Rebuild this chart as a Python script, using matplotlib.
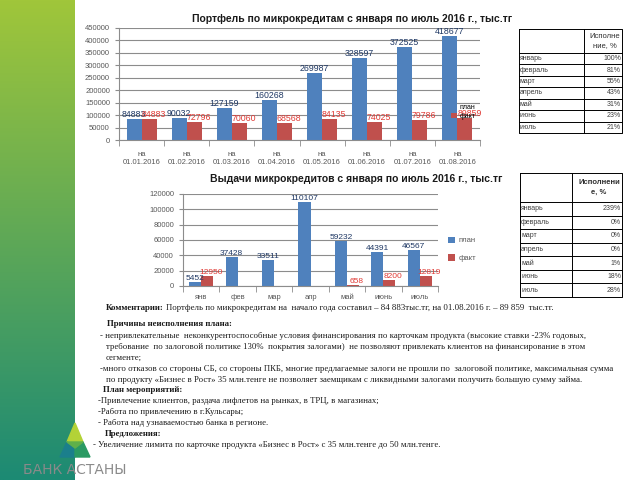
import numpy as np
import matplotlib
matplotlib.use('Agg')
import matplotlib.pyplot as plt
from matplotlib.patches import Polygon

#--data--
dates = ['01.01.2016', '01.02.2016', '01.03.2016', '01.04.2016',
         '01.05.2016', '01.06.2016', '01.07.2016', '01.08.2016']
portf_plan = [84883, 90032, 127159, 160268, 269987, 328597, 372525, 418677]
portf_fact = [84883, 72796, 70060, 68568, 84135, 74025, 79786, 89859]

months_short = ['янв', 'фев', 'мар', 'апр', 'май', 'июнь', 'июль']
issue_plan = [5452, 37428, 33511, 110107, 59232, 44391, 46567]
issue_fact = [12950, 0, 0, 0, 658, 8200, 12819]

months = ['январь', 'февраль', 'март', 'апрель', 'май', 'июнь', 'июль']
portf_pct = [100, 81, 55, 43, 31, 23, 21]
issue_pct = [239, 0, 0, 0, 1, 18, 28]

BLUE = '#4F81BD'
RED = '#C0504D'
GRID = '#8c8c8c'
TICK = '#595959'
SANS = ['Liberation Sans', 'DejaVu Sans']
SERIF = ['Liberation Serif', 'DejaVu Serif']

W, H = 640, 480
fig = plt.figure(figsize=(6.4, 4.8), dpi=100)


def px_axes(l, t, r, b):# pixel box -> figure axes
    return fig.add_axes([l / W, 1 - b / H, (r - l) / W, (b - t) / H])


# green strip on the left
strip = px_axes(0, 0, 75, 480)
top = np.array([160, 198, 58]) / 255
bot = np.array([28, 138, 116]) / 255
t = np.linspace(0, 1, 256)[:, None]
grad = (top[None, :] * (1 - t) + bot[None, :] * t)[:, None, :]
strip.imshow(grad, aspect='auto', extent=[0, 1, 1, 0])
strip.axis('off')


def bar_chart(ax, labels, plan, fact, ymax, ystep, fs):
    x = np.arange(len(labels))
    w = 0.333
    ax.bar(x - w / 2, plan, w, color=BLUE, label='план', zorder=2)
    ax.bar(x + w / 2, fact, w, color=RED, label='факт', zorder=2)
    for i in range(len(labels)):
        ax.text(x[i] - w / 2, plan[i], str(plan[i]), ha='center', va='bottom',
                fontsize=fs, color='#1F3864', family=SANS, zorder=3)
        if fact[i] > 0:
            ax.text(x[i] + w / 2 + 0.1, fact[i], str(fact[i]), ha='center',
                    va='bottom', fontsize=fs, color='#E03A35', family=SANS,
                    zorder=3)
    ax.set_xlim(-0.5, len(labels) - 0.5)
    ax.set_ylim(0, ymax)
    ax.set_yticks(np.arange(0, ymax + 1, ystep))
    ax.set_xticks(x)
    ax.set_xticklabels(labels)
    ax.set_xticks(np.arange(-0.5, len(labels), 1), minor=True)
    ax.tick_params(axis='x', which='major', length=0, pad=6)
    ax.tick_params(axis='x', which='minor', length=4, color=GRID)
    ax.tick_params(axis='y', length=3, color=GRID)
    ax.tick_params(labelsize=5.5, labelcolor=TICK)
    for lab in ax.get_xticklabels() + ax.get_yticklabels():
        lab.set_family(SANS)
    ax.yaxis.grid(True, color=GRID, lw=0.8)
    ax.set_axisbelow(True)
    for s in ['top', 'right']:
        ax.spines[s].set_visible(False)
    for s in ['left', 'bottom']:
        ax.spines[s].set_color(GRID)


# chart 1: portfolio
ax1 = px_axes(119, 28, 480, 140)
bar_chart(ax1, ['на\n' + d for d in dates], portf_plan, portf_fact,
          450000, 50000, 6.3)
ax1.tick_params(axis='x', which='major', pad=8)
ax1.legend(loc=(0.92, 0.18), frameon=False, handlelength=0.9,
           handleheight=0.9, handletextpad=0.3, labelspacing=0.2,
           borderpad=0, prop={'family': SANS, 'size': 5})

# chart 2: issuance
ax2 = px_axes(183, 194, 438, 286)
bar_chart(ax2, months_short, issue_plan, issue_fact, 120000, 20000, 6)
ax2.legend(loc=(1.04, 0.26), frameon=False, handlelength=0.9,
           handleheight=0.9, handletextpad=0.5, labelspacing=1.3,
           borderpad=0, prop={'family': SANS, 'size': 5.5},
           labelcolor=TICK)

# overlay for text, tables and logo
ov = fig.add_axes([0, 0, 1, 1])
ov.set_xlim(0, W)
ov.set_ylim(H, 0)
ov.axis('off')
ov.patch.set_alpha(0)

ov.text(352, 19, 'Портфель по микрокредитам с января по июль 2016 г., тыс.тг',
        ha='center', va='center', fontsize=7.5, fontweight='bold',
        family=SANS, color='#1a1a1a')
ov.text(356, 179, 'Выдачи микрокредитов с января по июль 2016 г., тыс.тг',
        ha='center', va='center', fontsize=7.5, fontweight='bold',
        family=SANS, color='#1a1a1a')


def draw_table(l, r, mid, t, hb, b, header, pct, bold):
    n = len(months)
    rh = (b - hb) / n
    lw = 0.7
    ov.plot([l, r, r, l, l], [t, t, b, b, t], color='k', lw=lw)
    ov.plot([mid, mid], [t, b], color='k', lw=lw)
    for i in range(n):
        y = hb + i * rh
        ov.plot([l, r], [y, y], color='k', lw=lw)
        ov.text(l + 1, y + rh / 2, months[i], ha='left', va='center',
                fontsize=5, family=SANS, color='#404040')
        ov.text(r - 1, y + rh / 2, '%d%%' % pct[i], ha='right', va='center',
                fontsize=5, family=SANS, color='#404040')
    ov.text((mid + r) / 2 + 2, (t + hb) / 2, header, ha='center',
            va='center', fontsize=5.5, family=SANS, color='#303030',
            fontweight='bold' if bold else 'normal', linespacing=1.4)


draw_table(519, 622, 584, 29, 53, 133, 'Исполне\nние, %', portf_pct, False)
draw_table(520, 622, 572, 173, 202, 297, 'Исполнени\nе, %', issue_pct, True)

# comments block
FS = 6.3
renderer = fig.canvas.get_renderer()


def line(x, y, txt, head=None):
    if head:
        h = ov.text(x, y, head, ha='left', va='center', fontsize=FS,
                    fontweight='bold', family=SERIF, color='#1a1a1a')
        bb = h.get_window_extent(renderer=renderer)
        x = x + bb.width * W / fig.bbox.width + 2
    if txt:
        ov.text(x, y, txt, ha='left', va='center', fontsize=FS,
                family=SERIF, color='#1a1a1a')


line(106, 308, 'Портфель по микрокредитам на  начало года составил – 84 883тыс.тг, '
     'на 01.08.2016 г. – 89 859  тыс.тг.', head='Комментарии:')
line(107, 324, None, head='Причины неисполнения плана:')
line(100, 336, '- непривлекательные  неконкурентоспособные условия финансирования '
     'по карточкам продукта (высокие ставки -23% годовых,')
line(106, 347, 'требование  по залоговой политике 130%  покрытия залогами)  не '
     'позволяют привлекать клиентов на финансирование в этом')
line(106, 358, 'сегменте;')
line(100, 369, '-много отказов со стороны СБ, со стороны ПКБ, многие предлагаемые '
     'залоги не прошли по  залоговой политике, максимальная сумма')
line(106, 380, 'по продукту «Бизнес в Рост» 35 млн.тенге не позволяет заемщикам '
     'с ликвидными залогами получить большую сумму займа.')
line(103, 390, None, head='План мероприятий:')
line(98, 401, '-Привлечение клиентов, раздача лифлетов на рынках, в ТРЦ, в магазинах;')
line(98, 412, '-Работа по привлечению в г.Кульсары;')
line(98, 423, '- Работа над узнаваемостью банка в регионе.')
line(105, 434, None, head='Предложения:')
line(93, 445, '- Увеличение лимита по карточке продукта «Бизнес в Рост» с 35 '
     'млн.тенге до 50 млн.тенге.')

# logo
ov.add_patch(Polygon([(75, 423), (67, 442), (83, 442)], color='#b3d237'))
ov.add_patch(Polygon([(67, 442), (60, 457), (75, 457), (75, 448)],
                     color='#1b7f8c'))
ov.add_patch(Polygon([(83, 442), (90, 457), (75, 457), (75, 448)],
                     color='#2a9a63'))
ov.add_patch(Polygon([(67, 442), (83, 442), (75, 448)], color='#5fb04a'))
ov.text(75, 470, 'БАНК АСТАНЫ', ha='center', va='center', fontsize=10,
        family=['Liberation Sans Narrow', 'DejaVu Sans'], color='#8a8a8a')

fig.savefig('out.png', dpi=100)
